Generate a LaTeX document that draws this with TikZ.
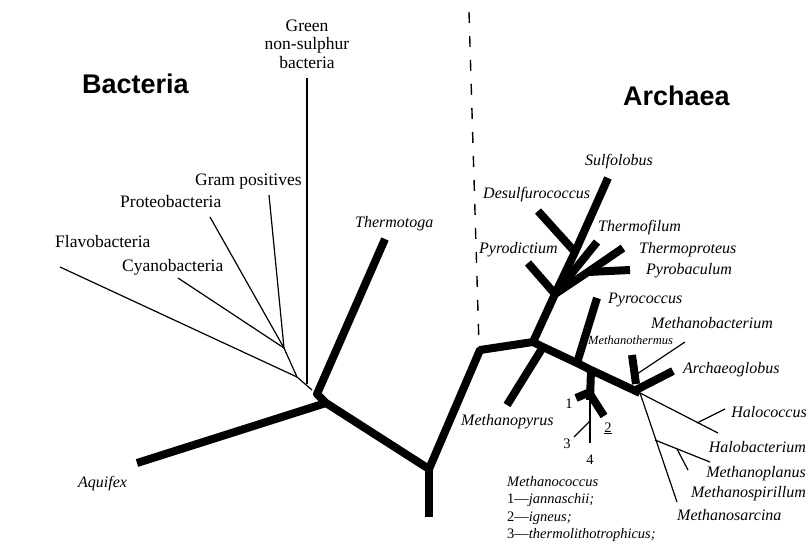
\documentclass[tikz,border=0pt]{standalone}
\usepackage{fontspec}
\setmainfont{Liberation Serif}
\newfontfamily\headfont{Liberation Sans}
\begin{document}
\begin{tikzpicture}[x=1pt,y=-1pt,
  thickbr/.style={line width=8pt, line cap=butt, line join=round},
  thinbr/.style={line width=1.2pt, line cap=butt, line join=round},
  lab/.style={font=\fontsize{17.5}{18.5}\selectfont, inner sep=0pt},
  sp/.style={font=\fontsize{16}{18}\selectfont\itshape, inner sep=0pt},
  small/.style={font=\fontsize{14.5}{17.5}\selectfont, inner sep=0pt},
  head/.style={font=\headfont\bfseries\fontsize{27}{30}\selectfont, inner sep=0pt}]
\useasboundingbox (0,0) rectangle (812,547);
\fill[white] (0,0) rectangle (812,547);

% ---------- coordinates: Bacteria ----------
\coordinate (b1) at (317,394);
\coordinate (b2) at (326,403);
\coordinate (aqE) at (137,463);
\coordinate (ttE) at (385,239);
\coordinate (r) at (429,469);
\coordinate (rB) at (429,517);
\coordinate (k) at (480,350);
\coordinate (a0) at (533,342);
\coordinate (f0) at (312,390);
\coordinate (fv) at (297,377);
\coordinate (fj) at (284,348);
\coordinate (flE) at (60,267);
\coordinate (cyE) at (178,278);
\coordinate (prE) at (210,217);
\coordinate (grE) at (269,195);
\coordinate (gnT) at (307,78);
\coordinate (gnB) at (307,384);
\coordinate (dashT) at (469,12);
\coordinate (dashB) at (479,345);

% ---------- coordinates: Crenarchaeota ----------
\coordinate (c1) at (555,294);
\coordinate (pdE) at (528,263);
\coordinate (dj) at (575,252);
\coordinate (sfE) at (608,178);
\coordinate (dsE) at (538,211);
\coordinate (tfE) at (597,242);
\coordinate (c2) at (588,272);
\coordinate (tpE) at (623,248);
\coordinate (pbE) at (630,270);

% ---------- coordinates: Euryarchaeota ----------
\coordinate (e1) at (543,347);
\coordinate (mpE) at (507,405);
\coordinate (pcJ) at (577,363);
\coordinate (pcE) at (597,298);
\coordinate (mcJ) at (591,370);
\coordinate (mcA) at (590,400);
\coordinate (m1J) at (590,392);
\coordinate (m1E) at (576,398);
\coordinate (m2J) at (590,394);
\coordinate (m2E) at (604,416);
\coordinate (m4E) at (590,443);
\coordinate (m3J) at (590,421);
\coordinate (m3E) at (574,437);
\coordinate (e2) at (640,393);
\coordinate (mbT) at (632,355);
\coordinate (mbB) at (636,384);
\coordinate (mtJ) at (637,374);
\coordinate (mtE) at (685,342);
\coordinate (agS) at (634,391);
\coordinate (agE) at (673,371);
\coordinate (hbE) at (718,433);
\coordinate (hcJ) at (697,423);
\coordinate (hcE) at (725,409);
\coordinate (msE) at (677,502);
\coordinate (mplJ) at (655,440);
\coordinate (mplE) at (710,462);
\coordinate (mspJ) at (677,449);
\coordinate (mspE) at (688,470);

% ---------- dashed divider ----------
\draw[line width=1.4pt, dash pattern=on 11pt off 13pt] (dashT) -- (dashB);

% ---------- thick branches ----------
\draw[thickbr] (aqE) -- (b2);
\draw[thickbr] (ttE) -- (b1) -- (b2) -- (r) -- (k) -- (a0) -- (e1) -- (pcJ) -- (mcJ) -- (e2);
\draw[thickbr] (r) -- (rB);
\draw[thickbr] (e1) -- (mpE);
\draw[thickbr] (pcJ) -- (pcE);
% Crenarchaeota
\draw[thickbr] (a0) -- (c1) -- (dj) -- (sfE);
\draw[thickbr] (dj) -- (dsE);
\draw[thickbr] (c1) -- (pdE);
\draw[thickbr] (c1) -- (tfE);
\draw[thickbr] (c1) -- (c2) -- (tpE);
\draw[thickbr] (c2) -- (pbE);
% Methanococcus
\draw[thickbr] (mcJ) -- (mcA);
\draw[thickbr] (m1J) -- (m1E);
\draw[thickbr] (m2J) -- (m2E);
% Methanobacterium / Archaeoglobus
\draw[thickbr] (mbT) -- (mbB);
\draw[thickbr] (agS) -- (agE);

% ---------- thin branches ----------
\draw[thinbr] (f0) -- (fv) -- (fj);
\draw[thinbr] (fv) -- (flE);
\draw[thinbr] (fj) -- (cyE);
\draw[thinbr] (fj) -- (prE);
\draw[thinbr] (fj) -- (grE);
\draw[thinbr] (gnT) -- (gnB);
\draw[thinbr] (mcA) -- (m4E);
\draw[thinbr] (m3J) -- (m3E);
\draw[thinbr] (mtJ) -- (mtE);
\draw[thinbr] (e2) -- (hbE);
\draw[thinbr] (hcJ) -- (hcE);
\draw[thinbr] (e2) -- (msE);
\draw[thinbr] (mplJ) -- (mplE);
\draw[thinbr] (mspJ) -- (mspE);

% ---------- headings ----------
\node[head, anchor=base west] (hBac) at (82,93) {Bacteria};
\node[head, anchor=base west] (hArc) at (623,105) {Archaea};

% ---------- bacterial labels ----------
\node[lab, align=center] (lGreen) at (307,44) {Green\\non-sulphur\\bacteria};
\node[lab, anchor=base west] (lGram) at (195,185) {Gram positives};
\node[lab, anchor=base west] (lProt) at (120,207) {Proteobacteria};
\node[lab, anchor=base west] (lFlav) at (55,247) {Flavobacteria};
\node[lab, anchor=base west] (lCyan) at (122,271) {Cyanobacteria};
\node[sp, anchor=base west] (lTherm) at (355,227) {Thermotoga};
\node[sp, anchor=base west] (lAqui) at (78,487) {Aquifex};

% ---------- archaeal labels ----------
\node[sp, anchor=base west] (lSulf) at (585,165) {Sulfolobus};
\node[sp, anchor=base west] (lDesu) at (483,198) {Desulfurococcus};
\node[sp, anchor=base west] (lTfil) at (598,231) {Thermofilum};
\node[sp, anchor=base west] (lPyrd) at (479,253) {Pyrodictium};
\node[sp, anchor=base west] (lTpro) at (639,253) {Thermoproteus};
\node[sp, anchor=base west] (lPyrb) at (646,274) {Pyrobaculum};
\node[sp, anchor=base west] (lPyrc) at (608,303) {Pyrococcus};
\node[sp, anchor=base west] (lMbac) at (651,328) {Methanobacterium};
\node[inner sep=0pt, font=\fontsize{12.5}{13}\selectfont\itshape, anchor=base west] (lMthe) at (588,344) {Methanothermus};
\node[sp, anchor=base west] (lArch) at (683,373) {Archaeoglobus};
\node[sp, anchor=base west] (lMpyr) at (461,425) {Methanopyrus};
\node[sp, anchor=base east] (lHcoc) at (807,417) {Halococcus};
\node[sp, anchor=base east] (lHbac) at (806,452) {Halobacterium};
\node[sp, anchor=base east] (lMpla) at (806,477) {Methanoplanus};
\node[sp, anchor=base east] (lMspi) at (806,497) {Methanospirillum};
\node[sp, anchor=base west] (lMsar) at (677,520) {Methanosarcina};

% Methanococcus numbers and legend
\node[small, anchor=base] (n1) at (569,408) {1};
\node[small, anchor=base] (n2) at (608,432) {\underline{2}};
\node[small, anchor=base] (n3) at (567,448) {3};
\node[small, anchor=base] (n4) at (590,464) {4};
\node[small, align=left, anchor=north west] (lMcoc) at (507,476)
  {\itshape Methanococcus\\
   1---\itshape jannaschii;\\
   2---\itshape igneus;\\
   3---\itshape thermolithotrophicus;};
\end{tikzpicture}
\end{document}
